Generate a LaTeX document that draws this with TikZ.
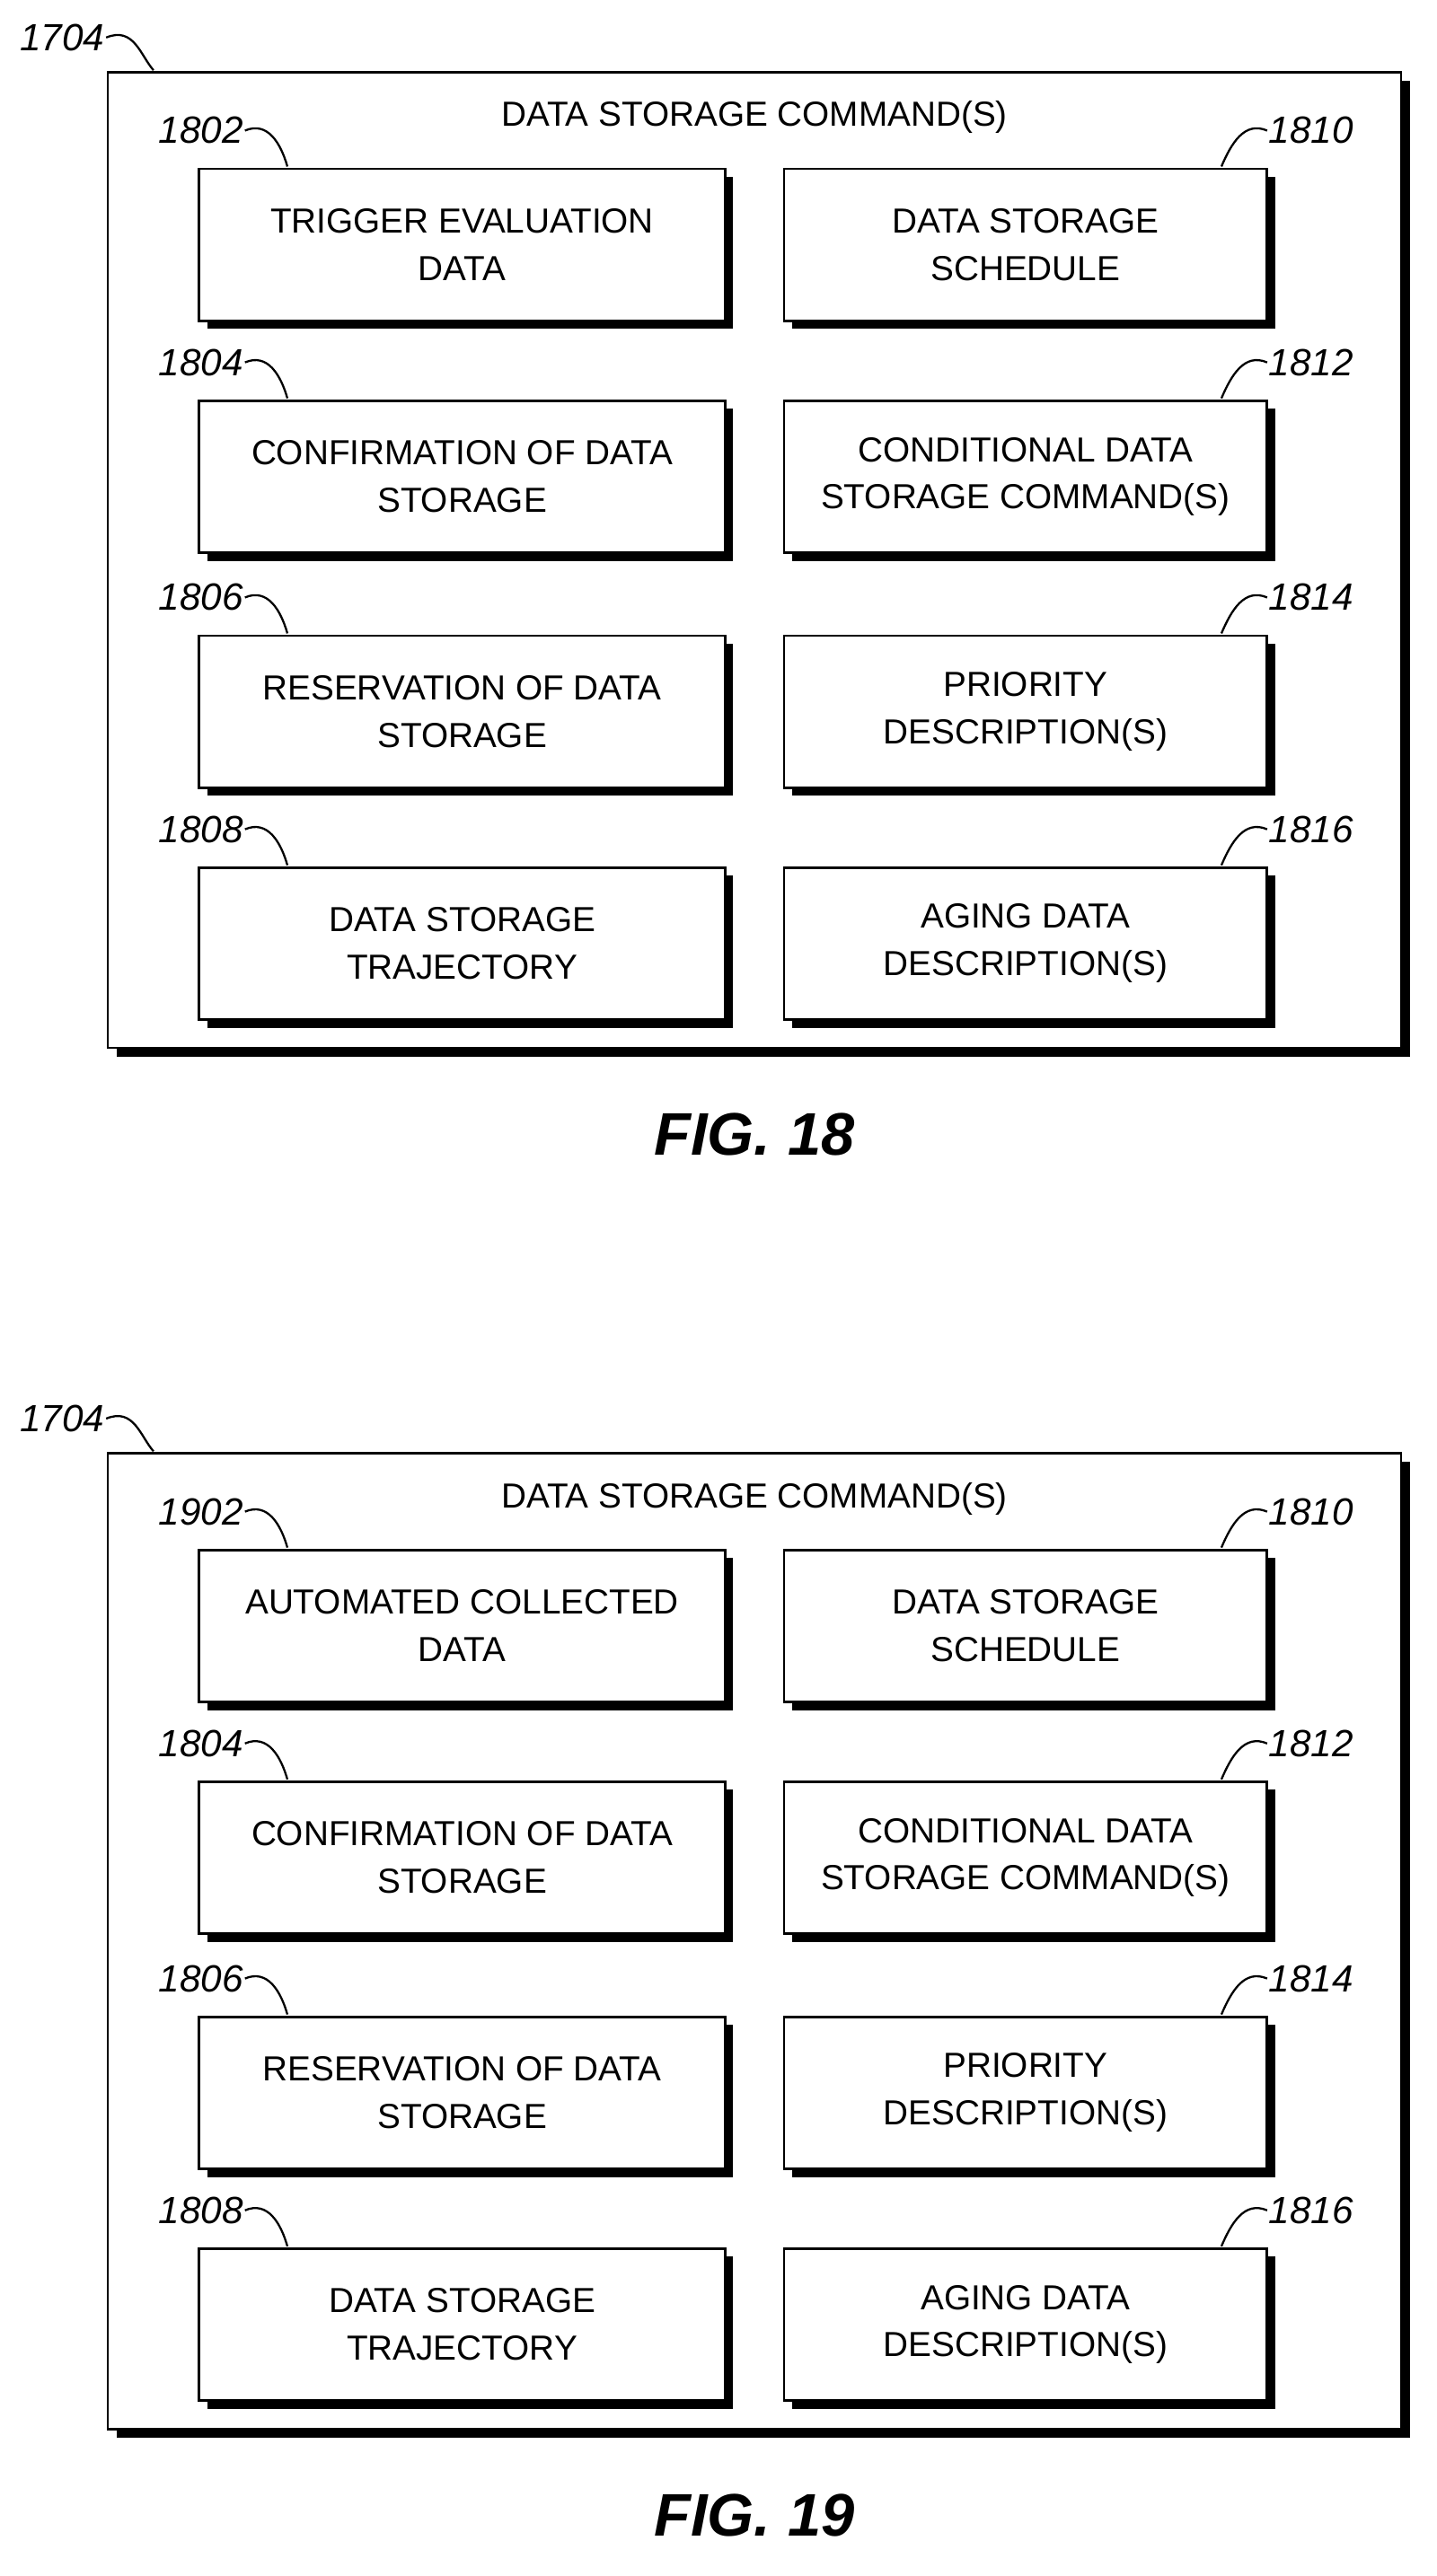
\documentclass[tikz,border=0pt]{standalone}
\usepackage{fontspec}
\setmainfont{Liberation Sans}
\usetikzlibrary{shadows}

% one storage-command figure: #1 prefix, #2 y offset, #3 first ref, #4 first text, #5 caption
\newcommand{\storagefig}[5]{
  \node[frame] (#1frame) at (462,343+#2) {};
  \node[font=\fontsize{22}{26}\selectfont] (#1title) at (462,72+#2) {DATA STORAGE COMMAND(S)};
  \node[ref] (#1ref) at (38,23+#2) {1704};
  \draw[hook] (#1ref.east) .. controls (82,16+#2) and (86,34+#2) .. (94,43+#2);
  \foreach \row/\yy/\lref/\ltext/\rref/\rtext in {
      1/150/#3/{#4}/1810/{DATA STORAGE\\SCHEDULE},
      2/292/1804/{CONFIRMATION OF DATA\\STORAGE}/1812/{CONDITIONAL DATA\\STORAGE COMMAND(S)},
      3/436/1806/{RESERVATION OF DATA\\STORAGE}/1814/{PRIORITY\\DESCRIPTION(S)},
      4/578/1808/{DATA STORAGE\\TRAJECTORY}/1816/{AGING DATA\\DESCRIPTION(S)}}{
    \node[box, minimum width=11.69cm] (#1l\row) at (283,\yy+#2) {\ltext};
    \node[box, minimum width=10.74cm] (#1r\row) at (628,\yy+#2) {\rtext};
    \node[ref, anchor=east] (#1ll\row) at (150,\yy-70+#2) {\lref};
    \node[ref, anchor=west] (#1rl\row) at (776,\yy-70+#2) {\rref};
    \draw[hook] (#1ll\row.east) .. controls (164,\yy-76+#2) and (172,\yy-62+#2) .. (176,\yy-48+#2);
    \draw[hook] (#1rl\row.west) .. controls (762,\yy-76+#2) and (754,\yy-62+#2) .. (748,\yy-48+#2);
  }
  \node[font=\fontsize{38}{40}\selectfont\bfseries\itshape] (#1cap) at (462,695+#2) {#5};
}

\begin{document}
\begin{tikzpicture}[x=0.0363cm, y=-0.0363cm]
  \tikzset{
    frame/.style={rectangle, draw, line width=1.5pt, fill=white, inner sep=0pt,
      minimum width=28.75cm, minimum height=21.7cm,
      drop shadow={shadow xshift=0.2cm, shadow yshift=-0.2cm, fill=black, opacity=1}},
    box/.style={rectangle, draw, line width=1.5pt, fill=white, inner sep=0pt,
      minimum height=3.38cm, align=center,
      font=\fontsize{22}{30}\selectfont,
      drop shadow={shadow xshift=0.18cm, shadow yshift=-0.18cm, fill=black, opacity=1}},
    ref/.style={font=\fontsize{24}{26}\selectfont\itshape, inner sep=1pt},
    hook/.style={line width=1.3pt},
  }
  \useasboundingbox (0,0) rectangle (880,1578);
  \storagefig{a}{0}{1802}{TRIGGER EVALUATION\\DATA}{FIG. 18}
  \storagefig{b}{846}{1902}{AUTOMATED COLLECTED\\DATA}{FIG. 19}
\end{tikzpicture}
\end{document}
